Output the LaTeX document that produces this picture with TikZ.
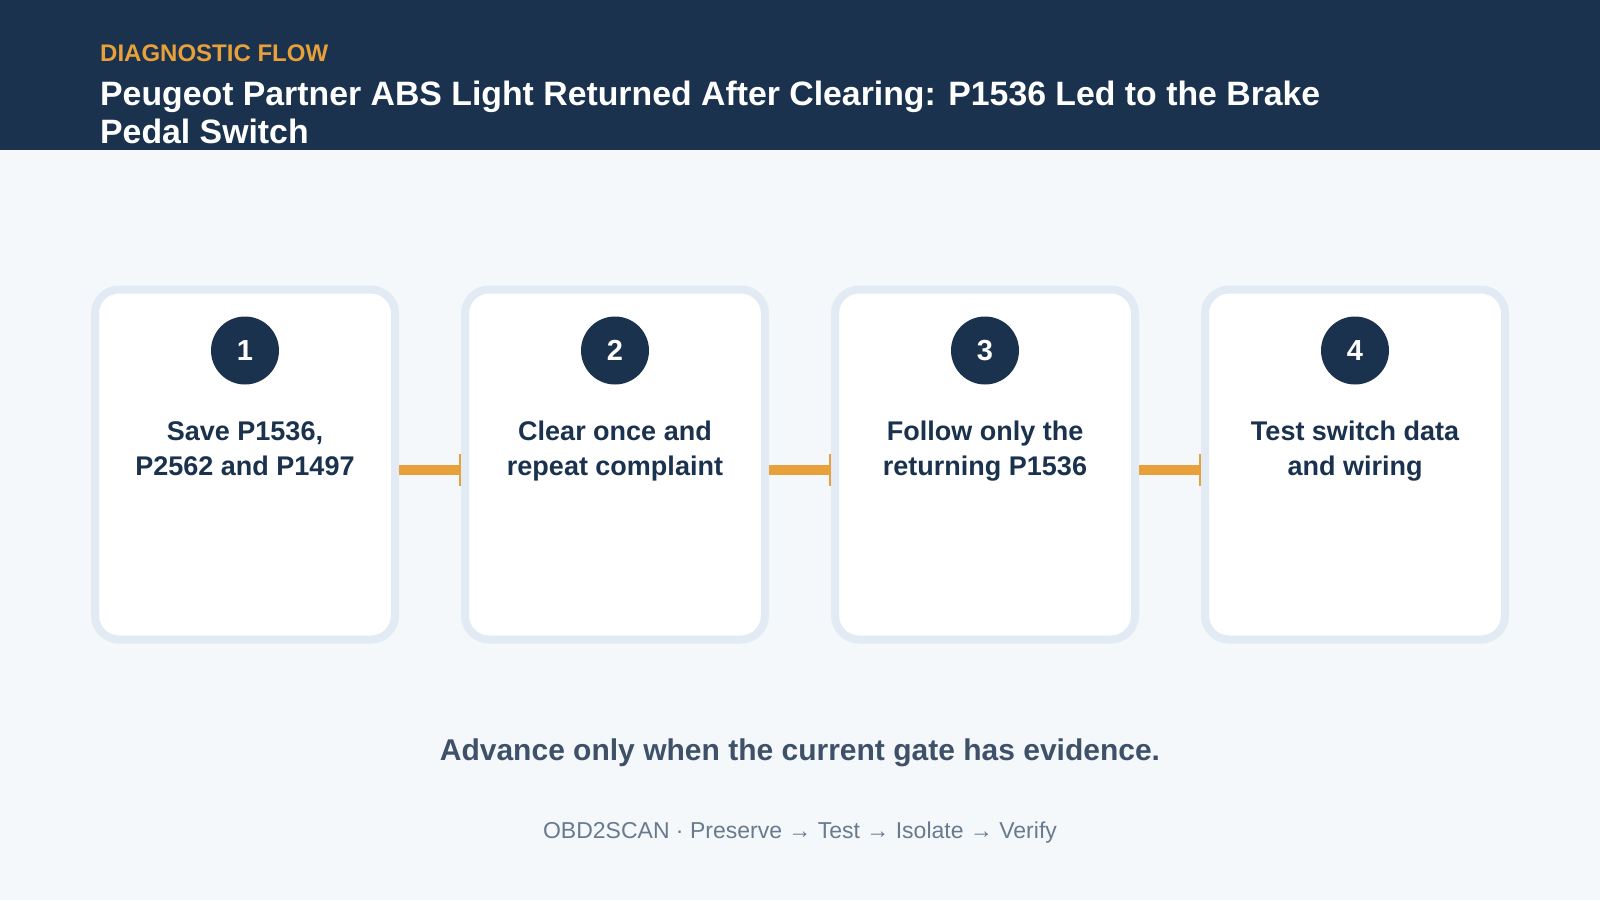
\documentclass[tikz,border=0pt]{standalone}
\usepackage{fontspec}
\setmainfont{Liberation Sans}
\usetikzlibrary{arrows.meta}
\definecolor{navy}{HTML}{1A324D}
\definecolor{flowor}{HTML}{E8A03A}
\definecolor{pagebg}{HTML}{F5F8FB}
\definecolor{cardedge}{HTML}{E2EAF4}
\definecolor{taggray}{HTML}{3F5168}
\definecolor{footgray}{HTML}{687A8E}
\tikzset{
    card/.style={draw=cardedge, line width=8pt, fill=white, rounded corners=24pt,
        minimum width=300pt, minimum height=350pt},
    stepnum/.style={circle, fill=navy, minimum size=68pt, inner sep=0pt,
        text=white, font=\bfseries\fontsize{29}{29}\selectfont},
    cardtext/.style={anchor=north, align=center, text=navy, inner sep=0pt,
        font=\bfseries\fontsize{27}{35}\selectfont},
    flowarrow/.style={draw=flowor, line width=10pt, -{Bar[width=32pt, line width=2pt]}}
}
\begin{document}
\begin{tikzpicture}[x=1pt, y=-1pt]
    \useasboundingbox (0,0) rectangle (1600,900);
    \fill[pagebg] (0,0) rectangle (1600,900);
    \fill[navy] (0,0) rectangle (1600,150);

    % header
    \node[anchor=west, text=flowor, font=\bfseries\fontsize{24}{24}\selectfont, inner sep=0pt] (kicker) at (100,53.5) {DIAGNOSTIC FLOW};
    \node[anchor=north west, align=left, text=white, font=\bfseries\fontsize{33.8}{38}\selectfont, inner sep=0pt] (title) at (100,81)
        {Peugeot Partner ABS Light Returned After Clearing: P1536 Led to the Brake\\Pedal Switch};

    % cards
    \node[card] (card1) at (245,464.5) {};
    \node[card] (card2) at (615,464.5) {};
    \node[card] (card3) at (985,464.5) {};
    \node[card] (card4) at (1355,464.5) {};

    \node[stepnum] (num1) at (245,350.5) {1};
    \node[stepnum] (num2) at (615,350.5) {2};
    \node[stepnum] (num3) at (985,350.5) {3};
    \node[stepnum] (num4) at (1355,350.5) {4};

    \node[cardtext] (text1) at (245,421) {Save P1536,\\P2562 and P1497};
    \node[cardtext] (text2) at (615,421) {Clear once and\\repeat complaint};
    \node[cardtext] (text3) at (985,421) {Follow only the\\returning P1536};
    \node[cardtext] (text4) at (1355,421) {Test switch data\\and wiring};

    \draw[flowarrow] ([yshift=-5.5pt]card1.east) -- ([yshift=-5.5pt]card2.west);
    \draw[flowarrow] ([yshift=-5.5pt]card2.east) -- ([yshift=-5.5pt]card3.west);
    \draw[flowarrow] ([yshift=-5.5pt]card3.east) -- ([yshift=-5.5pt]card4.west);

    % footer
    \node[text=taggray, font=\bfseries\fontsize{30}{30}\selectfont] (tagline) at (800,753) {Advance only when the current gate has evidence.};
    \node[text=footgray, font=\fontsize{23}{23}\selectfont] (footer) at (800,833) {OBD2SCAN · Preserve → Test → Isolate → Verify};
\end{tikzpicture}
\end{document}
